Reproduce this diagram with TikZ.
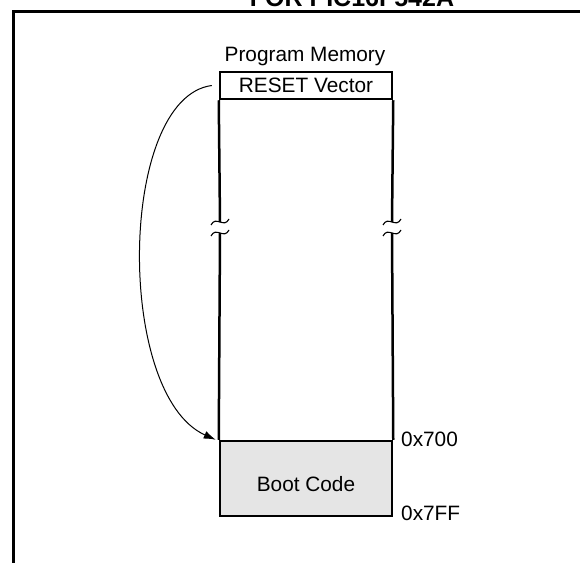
\documentclass[tikz,border=0pt]{standalone}
\usepackage{fontspec}
\setmainfont{Liberation Sans}
\usetikzlibrary{arrows.meta}
\tikzset{
  frameline/.style={line width=3bp},
  boxline/.style={line width=2.5bp},
  lbl/.style={inner sep=0pt, font=\fontsize{20.8bp}{24bp}\selectfont},
  memcell/.style={draw, boxline, inner sep=0pt, minimum width=172bp},
  brk/.style={line width=1.1bp},
  jump/.style={line width=1bp, -{Latex[length=12bp,width=8bp]}}
}
\begin{document}
\begin{tikzpicture}[x=1bp,y=-1bp]
\useasboundingbox (0,0) rectangle (580,563);
\clip (0,0) rectangle (580,563);
% title (cut off at top, as in the reference)
\node[lbl, anchor=base, font=\fontsize{25bp}{30bp}\selectfont\bfseries] (title) at (352,7) {FOR PIC16F542A};
% frame
\coordinate (fTL) at (13,12);
\coordinate (fTR) at (580,12);
\coordinate (fBL) at (13,563);
\draw[frameline] (fTR) -- (fTL) -- (fBL);
% program memory
\node[lbl, anchor=base] (pm) at (305,62) {Program Memory};
\node[memcell, minimum height=27bp, lbl] (reset) at (306,85.5) {RESET Vector};
\node[memcell, minimum height=75bp, fill=gray!20] (boot) at (306,478.5) {};
\node[lbl] (bootlbl) at (306,484.5) {Boot Code};
% sides with breaks
\coordinate (lb1) at (220,222);
\coordinate (lb2) at (220,233);
\coordinate (rb1) at (392,222);
\coordinate (rb2) at (392,233);
\draw[boxline] (reset.south west) -- (lb1);
\draw[boxline] (lb2) -- (boot.north west);
\draw[boxline] (reset.south east) -- (rb1);
\draw[boxline] (rb2) -- (boot.north east);
\foreach \c in {lb1,lb2,rb1,rb2}{
  \draw[brk] ([shift={(-9,3)}]\c) .. controls ([shift={(-4,-7)}]\c) and ([shift={(4,7)}]\c) .. ([shift={(9,-3)}]\c);
}
% addresses
\node[lbl, anchor=base west] (a700) at (401,446) {0x700};
\node[lbl, anchor=base west] (a7ff) at (401,520) {0x7FF};
% jump arrow
\draw[jump] ([xshift=-7bp]reset.west) .. controls (118,98) and (115,395) .. ([xshift=-3bp]boot.north west);
\end{tikzpicture}
\end{document}
